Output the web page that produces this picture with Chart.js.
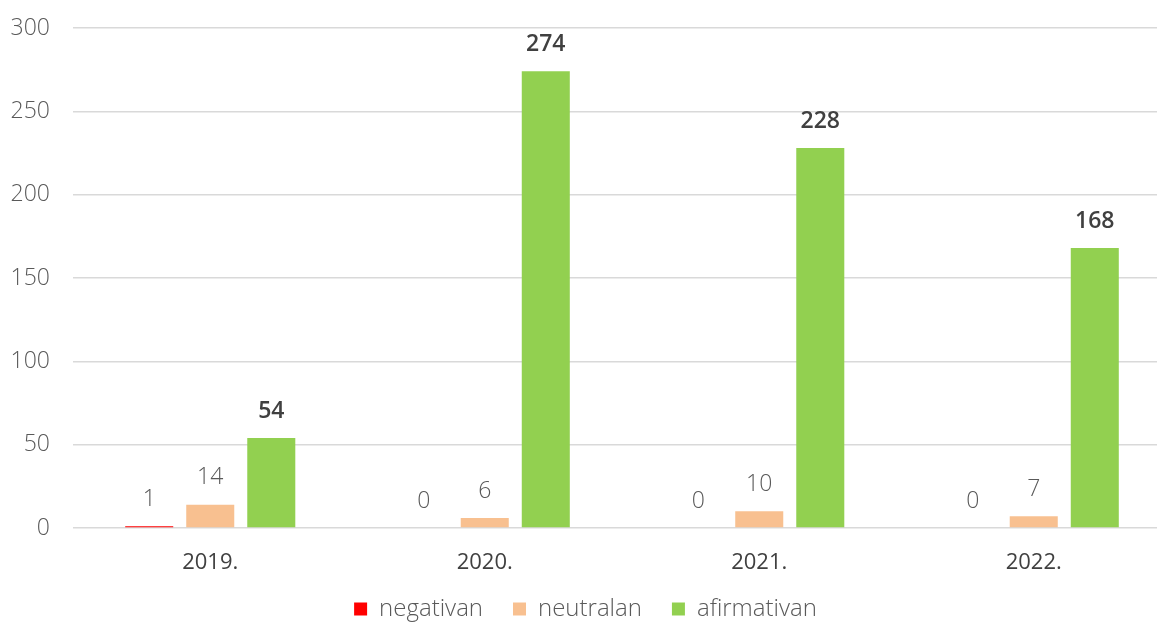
<!DOCTYPE html>
<html>
<head>
<meta charset="utf-8">
<script src="https://cdn.jsdelivr.net/npm/chart.js@4"></script>
<style>
  html, body { margin: 0; padding: 0; background: #fff; overflow: hidden; }
  #wrap { width: 1157px; height: 622px; overflow: hidden; }
</style>
</head>
<body>
<div id="wrap"><canvas id="c" width="1171" height="622"></canvas></div>
<script>
const years = ['2019.', '2020.', '2021.', '2022.'];
const negativan = [1, 0, 0, 0];
const neutralan = [14, 6, 10, 7];
const afirmativan = [54, 274, 228, 168];
const yTicks = [0, 50, 100, 150, 200, 250, 300];

const FONT = '"Open Sans"';

// numbers above the bars
const barLabels = {
  id: 'barLabels',
  afterDatasetsDraw(chart) {
    const ctx = chart.ctx;
    ctx.save();
    ctx.textAlign = 'center';
    ctx.textBaseline = 'middle';
    chart.data.datasets.forEach((ds, i) => {
      const meta = chart.getDatasetMeta(i);
      const bold = i === 2;
      ctx.font = (bold ? '600 ' : '300 ') + '23px ' + FONT;
      ctx.fillStyle = bold ? '#404040' : '#595959';
      meta.data.forEach((bar, j) => {
        ctx.fillText(String(ds.data[j]), bar.x, bar.y - 27);
      });
    });
    ctx.restore();
  }
};

// nudge the legend up a touch
const legendShift = {
  id: 'legendShift',
  afterLayout(chart) {
    const lg = chart.legend;
    if (lg) { lg.top -= 3; lg.bottom -= 3; }
  }
};

new Chart(document.getElementById('c'), {
  type: 'bar',
  data: {
    labels: years,
    datasets: [
      { label: 'negativan', data: negativan, backgroundColor: '#ff0000' },
      { label: 'neutralan', data: neutralan, backgroundColor: '#f8c090' },
      { label: 'afirmativan', data: afirmativan, backgroundColor: '#92d050' }
    ]
  },
  options: {
    responsive: false,
    animation: false,
    categoryPercentage: 0.667,
    barPercentage: 0.787,
    layout: { padding: { top: 28, right: 0, left: 0, bottom: -12 } },
    plugins: {
      legend: {
        position: 'bottom',
        labels: {
          boxWidth: 13,
          boxHeight: 13,
          padding: 30,
          color: '#595959',
          font: { family: FONT, size: 24, weight: '300' }
        }
      },
      tooltip: { enabled: false }
    },
    scales: {
      x: {
        grid: { display: false },
        border: { display: false },
        ticks: {
          color: '#404040',
          padding: 14,
          font: { family: FONT, size: 22, weight: '500' }
        },
        afterFit(scale) { scale.height = 42; }
      },
      y: {
        min: 0,
        max: 300,
        afterBuildTicks(scale) { scale.ticks = yTicks.map(v => ({ value: v })); },
        grid: { color: '#d9d9d9', lineWidth: 1.5, drawTicks: false },
        border: { display: false },
        ticks: {
          color: '#595959',
          padding: 23,
          font: { family: FONT, size: 23, weight: '300' }
        },
        afterFit(scale) {
          scale.width = 73;
          scale.paddingTop = 0;
          scale.paddingBottom = 0;
        }
      }
    }
  },
  plugins: [barLabels, legendShift]
});
</script>
</body>
</html>
